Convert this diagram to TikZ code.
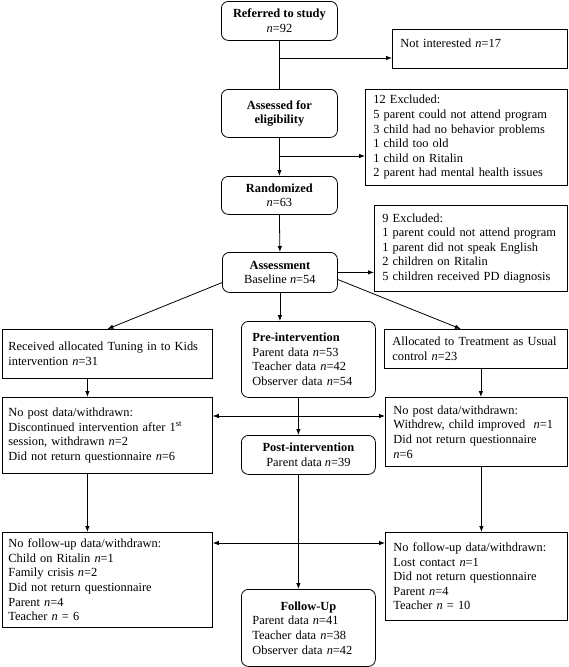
\documentclass[tikz,border=0pt]{standalone}
\usepackage{fontspec}
\setmainfont{Liberation Serif}
\usetikzlibrary{arrows.meta}
\newcommand{\nv}{\textit{n}}

\begin{document}
\begin{tikzpicture}[x=1pt, y=-1pt, line width=0.8pt,
    every node/.style={font=\fontsize{12.4}{14.6}\selectfont},
    box/.style={draw, anchor=north west, align=left, inner xsep=8pt, inner ysep=0pt},
    rbox/.style={box, rounded corners=7pt, align=center},
    arr/.style={-{Latex[length=6pt,width=4.5pt]}},
    darr/.style={{Latex[length=6pt,width=4.5pt]}-{Latex[length=6pt,width=4.5pt]}}]

    \useasboundingbox (0,0) rectangle (568,667);

    % recruitment
    \node[rbox, minimum width=116pt, minimum height=39pt] (ref) at (221,1) {\textbf{Referred to study}\\\nv=92};
    \node[box, text width=159pt, text height=18pt, text depth=21pt] (notint) at (392,29) {Not interested \nv=17};
    \node[rbox, minimum width=116pt, minimum height=48pt] (elig) at (221,89) {\textbf{Assessed for}\\\textbf{eligibility}};
    \node[box, text width=186pt, minimum height=96pt] (excl1) at (365,89) {12 Excluded:\\5 parent could not attend program\\3 child had no behavior problems\\1 child too old\\1 child on Ritalin\\2 parent had mental health issues};
    \node[rbox, minimum width=116pt, minimum height=38pt] (rand) at (221,176) {\textbf{Randomized}\\\nv=63};
    \node[box, text width=177pt, minimum height=86pt] (excl2) at (374,205) {9 Excluded:\\1 parent could not attend program\\1 parent did not speak English\\2 children on Ritalin\\5 children received PD diagnosis};
    \node[rbox, minimum width=115pt, minimum height=40pt] (assess) at (222,252) {\textbf{Assessment}\\Baseline \nv=54};

    % groups
    \node[box, text width=198pt, inner xsep=6pt, minimum height=49pt] (recv) at (2,329) {Received allocated Tuning in to Kids\\intervention \nv=31};
    \node[rbox, align=left, text width=112pt, inner xsep=11pt, minimum height=76pt] (pre) at (241,321) {\textbf{Pre-intervention}\\Parent data \nv=53\\Teacher data \nv=42\\Observer data \nv=54};
    \node[box, text width=167pt, minimum height=39pt] (alloc) at (384,329) {Allocated to Treatment as Usual\\control \nv=23};

    % post
    \node[box, text width=198pt, inner xsep=6pt, minimum height=76pt] (postL) at (2,397) {No post data/withdrawn:\\Discontinued intervention after 1\textsuperscript{st}\\session, withdrawn \nv=2\\Did not return questionnaire \nv=6};
    \node[box, text width=166pt, minimum height=69pt] (postR) at (385,397) {No post data/withdrawn:\\Withdrew, child improved~ \nv=1\\Did not return questionnaire\\\nv=6};
    \node[rbox, minimum width=134pt, minimum height=39pt] (post) at (241,435) {\textbf{Post-intervention}\\Parent data \nv=39};

    % follow-up
    \node[box, text width=198pt, inner xsep=6pt, minimum height=95pt] (fuL) at (2,532) {No follow-up data/withdrawn:\\Child on Ritalin \nv=1\\Family crisis \nv=2\\Did not return questionnaire\\Parent \nv=4\\Teacher \nv{} = 6};
    \node[box, text width=166pt, minimum height=88pt] (fuR) at (385,532) {No follow-up data/withdrawn:\\Lost contact \nv=1\\Did not return questionnaire\\Parent \nv=4\\Teacher \nv{} = 10};
    \node[rbox, align=left, text width=112pt, inner xsep=11pt, minimum height=77pt] (fu) at (241,589) {\makebox[\linewidth]{\textbf{Follow-Up}}\\Parent data \nv=41\\Teacher data \nv=38\\Observer data \nv=42};

    % arrows
    \coordinate (b1) at (279,58);
    \coordinate (b2) at (279,156);
    \coordinate (c1) at (298,416);
    \coordinate (c2) at (298,543);
    \draw (ref.south) -- (elig.north);
    \draw[arr] (b1) -- (b1 -| notint.west);
    \draw[arr] (elig.south) -- (rand.north);
    \draw[arr] (b2) -- (b2 -| excl1.west);
    \draw[arr] (rand.south) -- (assess.north);
    \draw[arr] (assess.east) -- (assess.east -| excl2.west);
    \draw[arr] (assess.190) -- (recv.north);
    \draw[arr] (assess.south) -- (assess.south |- pre.north);
    \draw[arr] (assess.353) -- ([xshift=-15pt]alloc.north);
    \draw[arr] ([xshift=-20pt]recv.south) -- ([xshift=-20pt]recv.south |- postL.north);
    \draw[arr] ([xshift=5pt]alloc.south) -- ([xshift=5pt]alloc.south |- postR.north);
    \draw[arr] ([xshift=-10pt]pre.south) -- ([xshift=-10pt]post.north);
    \draw[darr] (c1 -| postL.east) -- (c1 -| postR.west);
    \draw[arr] ([xshift=-20pt]postL.south) -- ([xshift=-20pt]postL.south |- fuL.north);
    \draw[arr] ([xshift=5pt]postR.south) -- ([xshift=5pt]postR.south |- fuR.north);
    \draw[arr] ([xshift=-10pt]post.south) -- ([xshift=-10pt]fu.north);
    \draw[darr] (c2 -| fuL.east) -- (c2 -| fuR.west);
\end{tikzpicture}
\end{document}
